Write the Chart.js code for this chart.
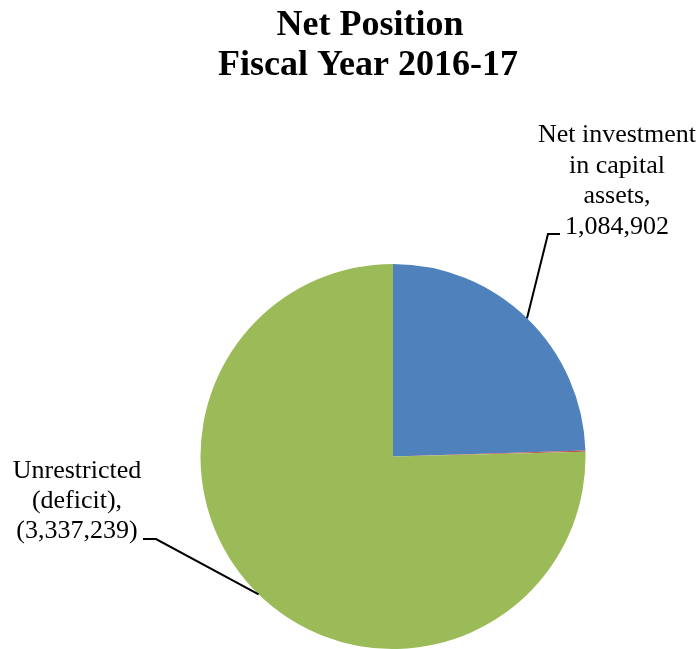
<!DOCTYPE html>
<html>
<head>
<meta charset="utf-8">
<script src="https://cdn.jsdelivr.net/npm/chart.js@4"></script>
<style>
  html, body { margin: 0; padding: 0; background: #ffffff; }
  #wrap { width: 700px; height: 649px; position: relative; }
</style>
</head>
<body>
<div id="wrap"><canvas id="c"></canvas></div>
<script>
// ---- data ----
const titleLines = ["Net Position", "Fiscal Year 2016-17"];
const categories = ["Net investment in capital assets", "Restricted", "Unrestricted (deficit)"];
const netValues = [1084902, 4000, -3337239];
const sliceColors = ["#4F81BD", "#C0504D", "#9BBB59"];
const labelLines = [
  ["Net investment", "in capital", "assets,"],
  null,
  ["Unrestricted", "(deficit),"]
];

function fmt(v) {
  const s = Math.abs(v).toLocaleString("en-US");
  return v < 0 ? "(" + s + ")" : s;
}

// label placement (layout only)
const labelLayout = [
  { cx: 617, baseline: 142, gap: 30.5, elbowX: 548, elbowY: 234, tailX: 560 },
  null,
  { cx: 77, baseline: 478, gap: 30, elbowX: 156, elbowY: 539, tailX: 143 }
];

const titlePlugin = {
  id: "customTitle",
  afterDraw(chart) {
    const ctx = chart.ctx;
    ctx.save();
    ctx.fillStyle = "#000";
    ctx.font = "bold 36px 'Liberation Serif', 'Times New Roman', serif";
    ctx.textAlign = "center";
    ctx.textBaseline = "alphabetic";
    ctx.fillText(titleLines[0], 370, 35);
    ctx.fillText(titleLines[1], 368, 75);
    ctx.restore();
  }
};

const labelPlugin = {
  id: "sliceLabels",
  afterDraw(chart) {
    const ctx = chart.ctx;
    const meta = chart.getDatasetMeta(0);
    ctx.save();
    ctx.font = "26px 'Liberation Serif', 'Times New Roman', serif";
    ctx.fillStyle = "#000";
    ctx.textAlign = "center";
    ctx.textBaseline = "alphabetic";
    ctx.strokeStyle = "#000";
    ctx.lineWidth = 2;
    meta.data.forEach((arc, i) => {
      const lay = labelLayout[i];
      if (!lay || !labelLines[i]) return;
      const p = arc.getProps(["x", "y", "startAngle", "endAngle", "outerRadius"], true);
      const mid = (p.startAngle + p.endAngle) / 2;
      const ax = p.x + Math.cos(mid) * p.outerRadius;
      const ay = p.y + Math.sin(mid) * p.outerRadius;
      ctx.beginPath();
      ctx.moveTo(ax, ay);
      ctx.lineTo(lay.elbowX, lay.elbowY);
      ctx.lineTo(lay.tailX, lay.elbowY);
      ctx.stroke();
      const lines = labelLines[i].concat([fmt(netValues[i])]);
      lines.forEach((t, k) => ctx.fillText(t, lay.cx, lay.baseline + k * lay.gap));
    });
    ctx.restore();
  }
};

new Chart(document.getElementById("c"), {
  type: "pie",
  data: {
    labels: categories,
    datasets: [{
      data: netValues.map(v => Math.abs(v)),
      backgroundColor: sliceColors,
      borderWidth: 0
    }]
  },
  options: {
    responsive: true,
    maintainAspectRatio: false,
    animation: false,
    layout: { padding: { left: 86, right: 0, top: 264, bottom: 0 } },
    plugins: {
      legend: { display: false },
      title: { display: false },
      tooltip: { enabled: false }
    }
  },
  plugins: [titlePlugin, labelPlugin]
});
</script>
</body>
</html>
